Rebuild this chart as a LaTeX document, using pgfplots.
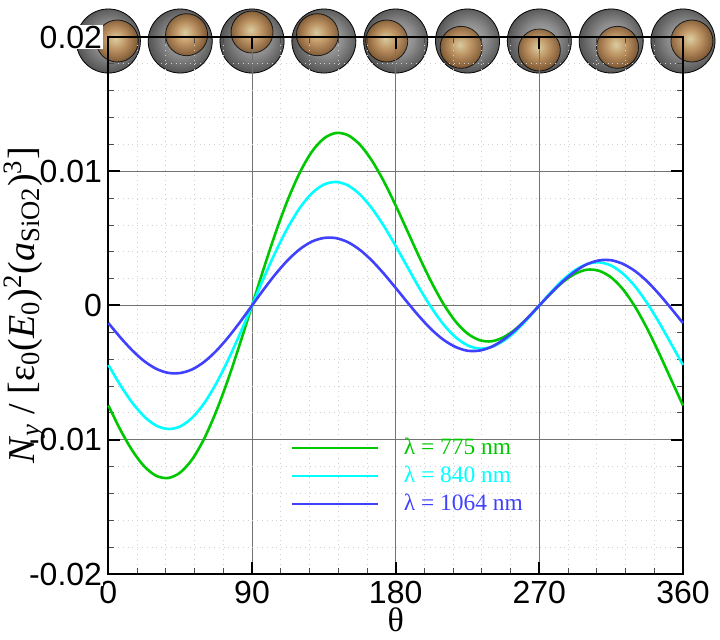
\documentclass[border=0pt]{standalone}
\usepackage{fontspec}
\setmainfont{Liberation Sans}
\newfontfamily\tms{Liberation Serif}
\usepackage{pgfplots}
\usepackage{pgfplotstable}
\pgfplotsset{compat=1.18}
\definecolor{cgreen}{RGB}{0,200,0}
\definecolor{ccyan}{RGB}{0,255,255}
\definecolor{cblue}{RGB}{64,64,255}
\definecolor{shA}{RGB}{178,178,178}
\definecolor{shB}{RGB}{140,140,140}
\definecolor{shC}{RGB}{88,88,88}
\definecolor{coA}{RGB}{232,216,160}
\definecolor{coB}{RGB}{200,148,88}
\definecolor{coC}{RGB}{135,88,42}
\pgfdeclareradialshading{shellsh}{\pgfpoint{2bp}{2bp}}{color(0bp)=(shA); color(13bp)=(shB); color(25bp)=(shC); color(50bp)=(shC)}
\pgfdeclareradialshading{coresh}{\pgfpoint{-2bp}{3bp}}{color(0bp)=(coA); color(12bp)=(coB); color(25bp)=(coC); color(50bp)=(coC)}
\pgfdeclareplotmark{shell}{\shade[shading=shellsh] (0pt,0pt) circle (16pt);}
\pgfdeclareplotmark{shellglass}{\shade[shading=shellsh, opacity=0.2] (0pt,0pt) circle (16pt);}
\pgfdeclareplotmark{core}{\shade[shading=coresh] (0pt,0pt) circle (10.5pt);}

\pgfplotstableread{
t v
0 -0.00745
7.5 -0.00926
15 -0.01081
22.5 -0.01199
30 -0.01269
37.5 -0.01285
45 -0.01244
52.5 -0.01146
60 -0.00992
67.5 -0.00790
75 -0.00550
82.5 -0.00282
90 0
97.5 0.00282
105 0.00550
112.5 0.00790
120 0.00992
127.5 0.01146
135 0.01244
142.5 0.01285
150 0.01269
157.5 0.01199
165 0.01081
172.5 0.00926
180 0.00745
187.5 0.00550
195 0.00355
202.5 0.00171
210 0.00010
217.5 -0.00119
225 -0.00209
232.5 -0.00258
240 -0.00267
247.5 -0.00237
255 -0.00177
262.5 -0.00094
270 0
277.5 0.00094
285 0.00177
292.5 0.00237
300 0.00267
307.5 0.00258
315 0.00209
322.5 0.00119
330 -0.00010
337.5 -0.00171
345 -0.00355
352.5 -0.00550
360 -0.00745
}\tgreen

\pgfplotstableread{
t v
0 -0.00443
7.5 -0.00594
15 -0.00725
22.5 -0.00828
30 -0.00895
37.5 -0.00920
45 -0.00901
52.5 -0.00836
60 -0.00728
67.5 -0.00582
75 -0.00406
82.5 -0.00209
90 0
97.5 0.00209
105 0.00406
112.5 0.00582
120 0.00728
127.5 0.00836
135 0.00901
142.5 0.00920
150 0.00895
157.5 0.00828
165 0.00725
172.5 0.00594
180 0.00443
187.5 0.00284
195 0.00126
202.5 -0.00018
210 -0.00142
217.5 -0.00236
225 -0.00297
232.5 -0.00321
240 -0.00309
247.5 -0.00264
255 -0.00193
262.5 -0.00101
270 0
277.5 0.00101
285 0.00193
292.5 0.00264
300 0.00309
307.5 0.00321
315 0.00297
322.5 0.00236
330 0.00142
337.5 0.00018
345 -0.00126
352.5 -0.00284
360 -0.00443
}\tcyan

\pgfplotstableread{
t v
0 -0.00131
7.5 -0.00238
15 -0.00335
22.5 -0.00415
30 -0.00472
37.5 -0.00502
45 -0.00503
52.5 -0.00476
60 -0.00420
67.5 -0.00339
75 -0.00238
82.5 -0.00123
90 0
97.5 0.00123
105 0.00238
112.5 0.00339
120 0.00420
127.5 0.00476
135 0.00503
142.5 0.00502
150 0.00472
157.5 0.00415
165 0.00335
172.5 0.00238
180 0.00131
187.5 0.00021
195 -0.00085
202.5 -0.00180
210 -0.00256
217.5 -0.00309
225 -0.00337
232.5 -0.00336
240 -0.00308
247.5 -0.00255
255 -0.00182
262.5 -0.00095
270 0
277.5 0.00095
285 0.00182
292.5 0.00255
300 0.00308
307.5 0.00336
315 0.00337
322.5 0.00309
330 0.00256
337.5 0.00180
345 0.00085
352.5 -0.00021
360 -0.00131
}\tblue

\pgfplotstableread{
t v
0 0.0197
45 0.0197
90 0.0197
135 0.0197
180 0.0197
225 0.0197
270 0.0197
315 0.0197
360 0.0197
}\tshells

\pgfplotstableread{
t v
5.6 0.0197
49.0 0.02017
90 0.02037
131.0 0.02017
174.4 0.0197
221.0 0.01923
270 0.01903
319.0 0.01923
365.6 0.0197
}\tcores

\begin{document}
\begin{tikzpicture}
% spheres, drawn first so that the chart axis lies over them
\begin{axis}[
  at={(0,0)}, anchor=south west,
  scale only axis, width=287.3pt, height=268.5pt,
  xmin=0, xmax=360, ymin=-0.02, ymax=0.02,
  hide axis, clip=false,
]
\addplot[only marks, mark=shell] table[x=t,y=v] {\tshells};
\addplot[only marks, mark=core] table[x=t,y=v] {\tcores};
\addplot[only marks, mark=shellglass] table[x=t,y=v] {\tshells};
\end{axis}
\begin{axis}[
  at={(0,0)}, anchor=south west,
  scale only axis, width=287.3pt, height=268.5pt,
  xmin=0, xmax=360, ymin=-0.02, ymax=0.02,
  clip=false,
  axis line style={line width=1pt, black},
  xtick={0,90,180,270,360},
  ytick={-0.02,-0.01,0,0.01,0.02},
  yticklabels={-0.02,-0.01,0,0.01,0.02},
  scaled y ticks=false,
  minor x tick num=4,
  minor y tick num=4,
  tick align=inside,
  tick pos=both,
  xticklabel pos=lower,
  yticklabel pos=left,
  major tick length=6pt,
  minor tick length=3pt,
  major tick style={line width=1pt, black},
  minor tick style={line width=0.4pt, black!70},
  grid=both,
  major grid style={line width=0.5pt, black!55},
  minor grid style={line width=0.4pt, black!18, dotted},
  /pgf/number format/assume math mode=true,
  tick label style={font=\fontsize{16}{16}\selectfont},
  yticklabel style={fill=white, inner sep=0.5pt, xshift=-2.5pt},
  xlabel={\tms θ},
  xlabel style={font=\fontsize{17}{17}\selectfont, inner sep=0pt, at={(axis description cs:0.5,-0.086)}, anchor=center},
  ylabel={\tms \textit{N}\textsubscript{\textit{y}} / [ε\textsubscript{0}(\textit{E}\textsubscript{0})\textsuperscript{2}(\textit{a}\textsubscript{SiO2})\textsuperscript{3}]},
  ylabel style={font=\fontsize{19}{19}\selectfont, at={(axis description cs:-0.146,0.5)}, anchor=center},
  legend image code/.code={\draw[#1] (0pt,0pt) -- (43pt,0pt);},
  legend style={draw=none, fill=none, at={(0.3056,0.2625)}, anchor=north west,
    font=\tms\fontsize{11.7}{13.5}\selectfont, row sep=3.5pt, column sep=0pt,
    nodes={inner sep=0pt, text height=8.5pt, text depth=2pt}},
  legend cell align=left,
]
\addplot[cgreen, line width=1.3pt, smooth] table[x=t,y=v] {\tgreen};
\addlegendentry{\hspace{12.5pt}\textcolor{cgreen}{λ = 775 nm}}
\addplot[ccyan, line width=1.3pt, smooth] table[x=t,y=v] {\tcyan};
\addlegendentry{\hspace{12.5pt}\textcolor{ccyan}{λ = 840 nm}}
\addplot[cblue, line width=1.3pt, smooth] table[x=t,y=v] {\tblue};
\addlegendentry{\hspace{12.5pt}\textcolor{cblue}{λ = 1064 nm}}
\end{axis}
\pgfresetboundingbox
\path (-54.2pt,-33pt) rectangle (305.8pt,287pt);
\end{tikzpicture}
\end{document}
